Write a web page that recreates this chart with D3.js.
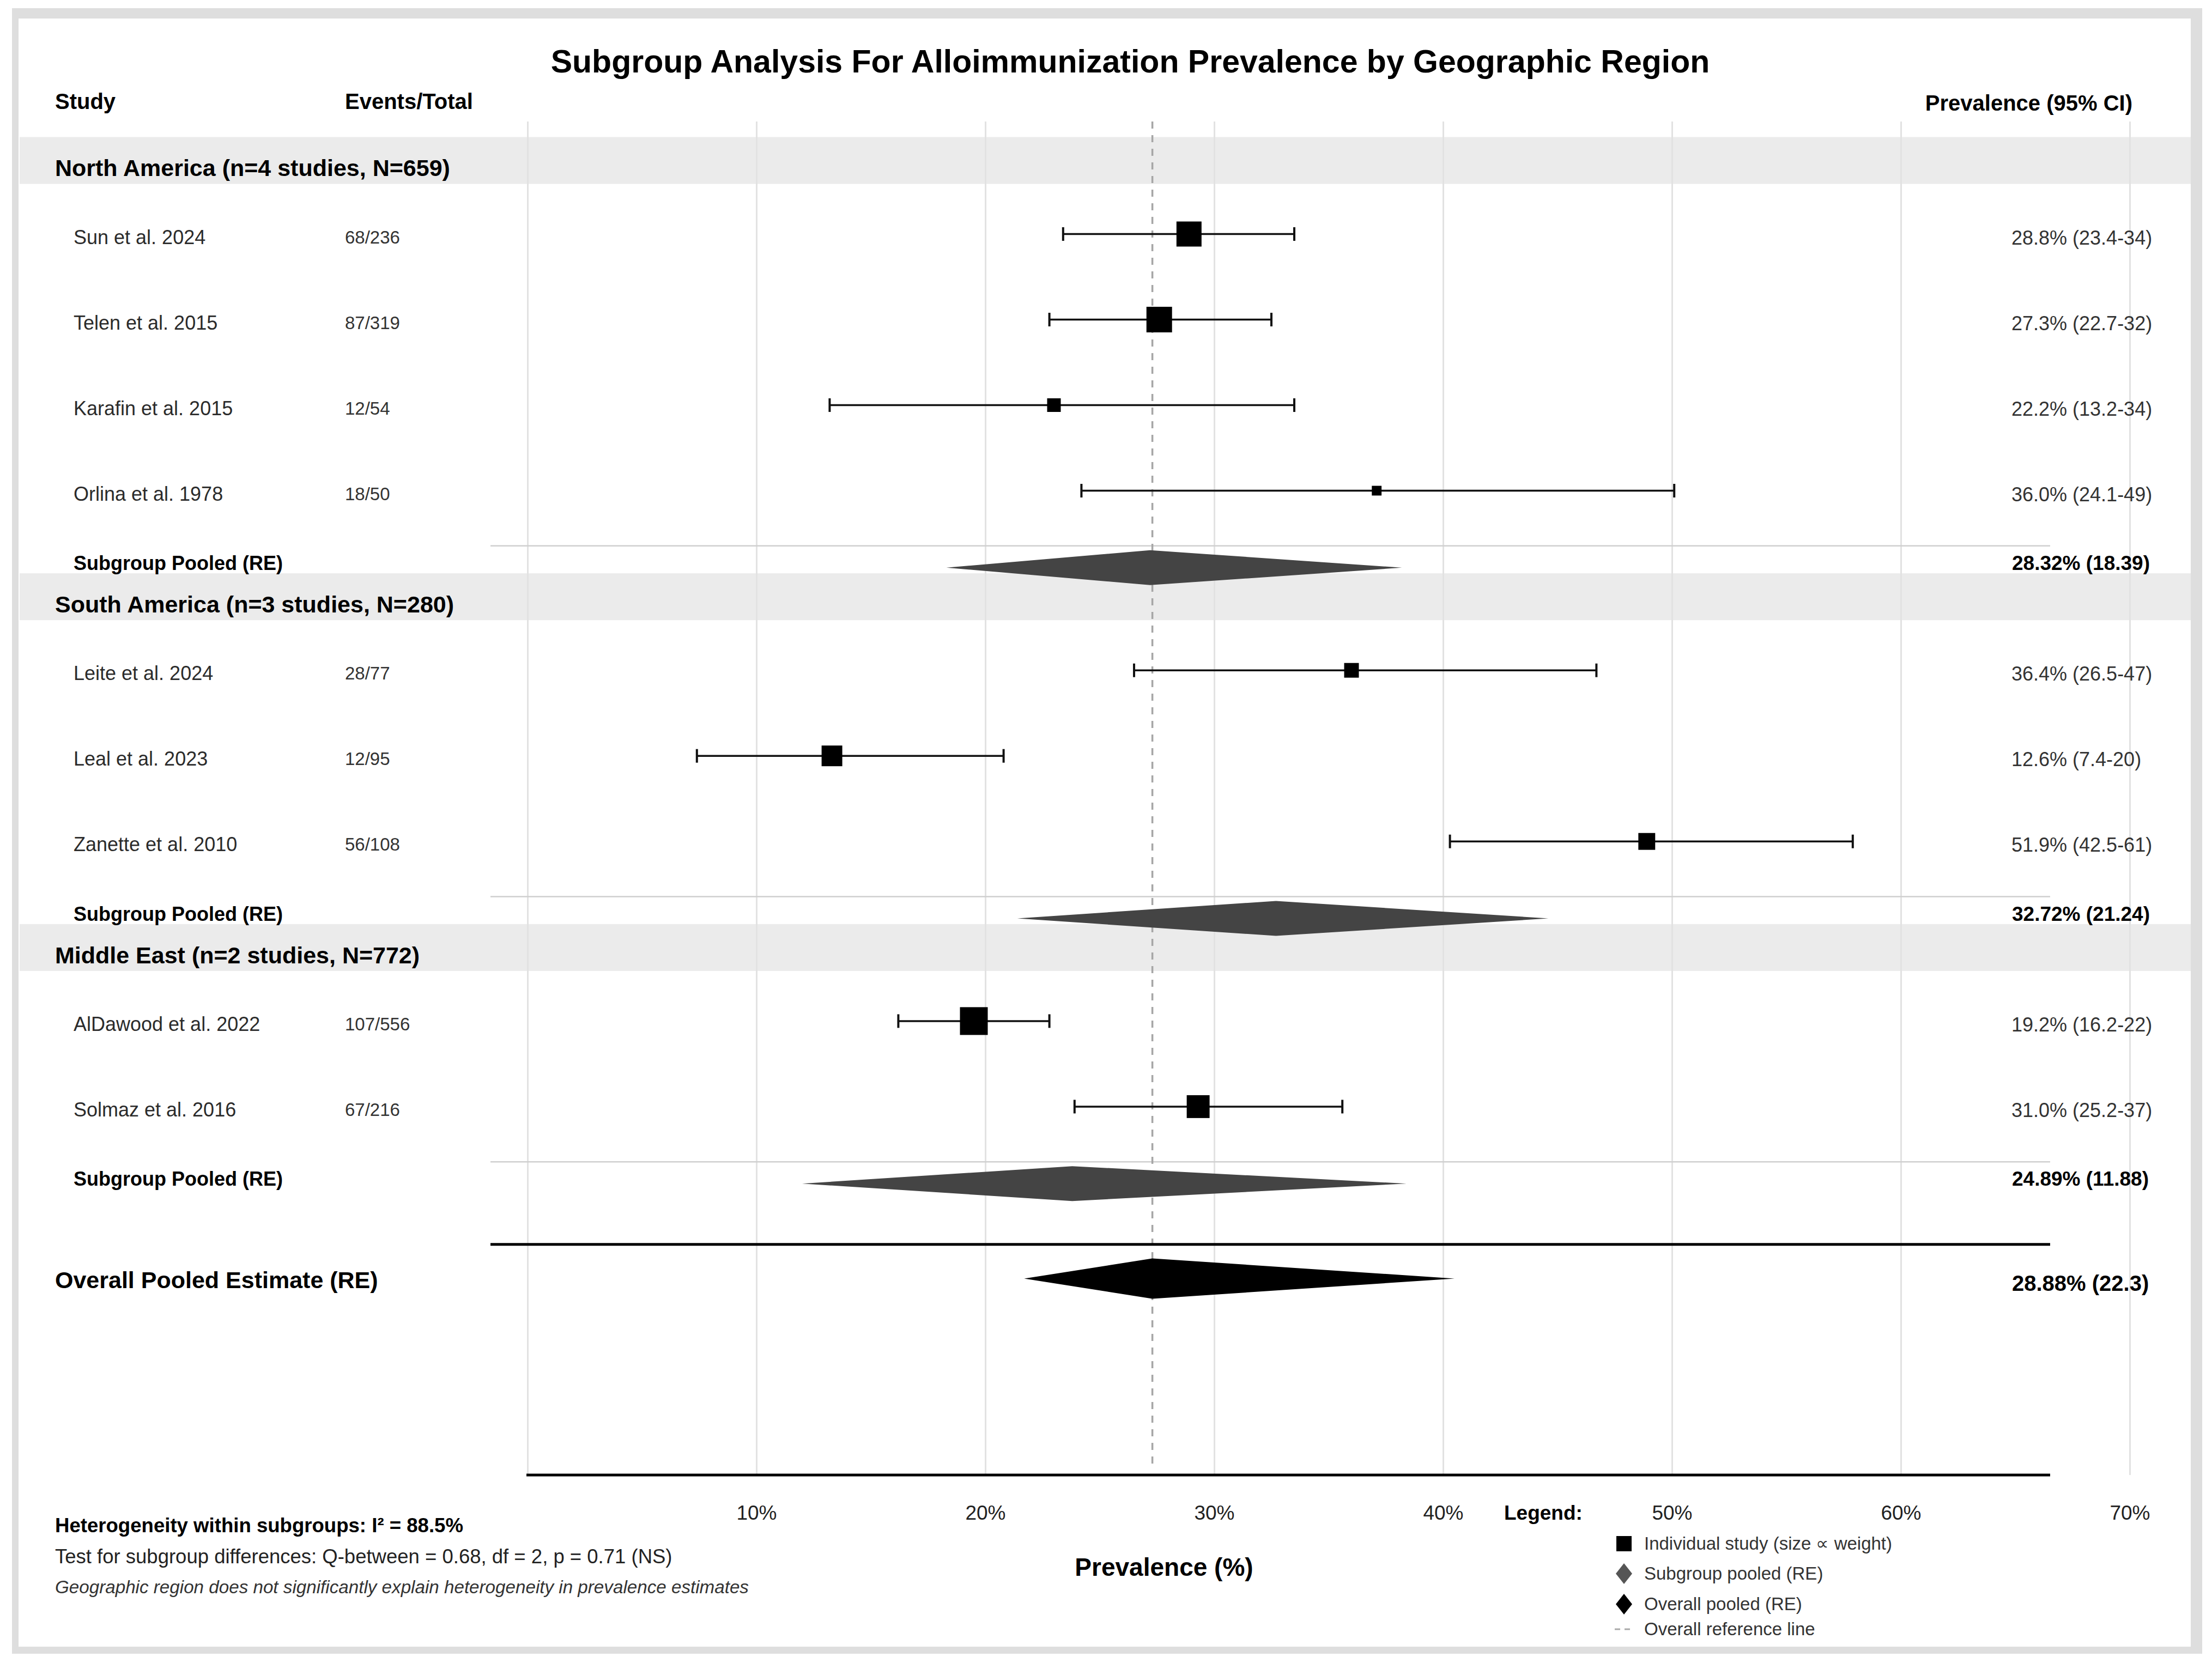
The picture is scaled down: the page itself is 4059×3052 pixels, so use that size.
<!DOCTYPE html>
<meta charset="utf-8">
<script src="https://d3js.org/d3.v7.min.js"></script>
<style>
  body { margin: 0; background: #fff; }
  text { font-family: "Liberation Sans", Arial, Helvetica, sans-serif; }
</style>
<div id="forest"></div>
<script>

// ---- data ----
var groups = ["North America (n=4 studies, N=659)",
              "South America (n=3 studies, N=280)",
              "Middle East (n=2 studies, N=772)"];
var groupSizes = [4, 3, 2];

var studies = ["Sun et al. 2024", "Telen et al. 2015", "Karafin et al. 2015", "Orlina et al. 1978",
               "Leite et al. 2024", "Leal et al. 2023", "Zanette et al. 2010",
               "AlDawood et al. 2022", "Solmaz et al. 2016"];
var events = ["68/236", "87/319", "12/54", "18/50", "28/77", "12/95", "56/108", "107/556", "67/216"];
var estimate = [28.9, 27.6, 23.0, 37.1, 36.0, 13.3, 48.9, 19.5, 29.3];
var lower    = [23.4, 22.8, 13.2, 24.2, 26.5,  7.4, 40.3, 16.2, 23.9];
var upper    = [33.5, 32.5, 33.5, 50.1, 46.7, 20.8, 57.9, 22.8, 35.6];
var weight   = [16.6, 17.3,  4.9,  2.5,  5.7, 11.3,  7.5, 20.4, 13.8];
var ciLabels = ["28.8% (23.4-34)", "27.3% (22.7-32)", "22.2% (13.2-34)", "36.0% (24.1-49)",
                "36.4% (26.5-47)", "12.6% (7.4-20)", "51.9% (42.5-61)",
                "19.2% (16.2-22)", "31.0% (25.2-37)"];

var pooledEst   = [27.2, 32.7, 23.8];
var pooledLow   = [18.3, 21.4, 12.0];
var pooledHigh  = [38.2, 44.6, 38.4];
var pooledLabels = ["28.32% (18.39)", "32.72% (21.24)", "24.89% (11.88)"];

var overallEst = 27.3, overallLow = 21.7, overallHigh = 40.5;
var overallLabel = "28.88% (22.3)";
var refValue = 27.3;

var gridTicks = [0, 10, 20, 30, 40, 50, 60, 70];
var labelTicks = [10, 20, 30, 40, 50, 60, 70];

var footLines = ["Heterogeneity within subgroups: I\u00b2 = 88.5%",
                 "Test for subgroup differences: Q-between = 0.68, df = 2, p = 0.71 (NS)",
                 "Geographic region does not significantly explain heterogeneity in prevalence estimates"];
var legendItems = ["Individual study (size \u221d weight)", "Subgroup pooled (RE)",
                   "Overall pooled (RE)", "Overall reference line"];

// ---- canvas ----
var W = 4059, H = 3052;
var svg = d3.select("#forest").append("svg")
    .attr("width", W).attr("height", H);

// frame with soft grey edge
svg.append("rect").attr("x", 22).attr("y", 15).attr("width", 4019).attr("height", 3020).attr("fill", "#dedede");
svg.append("rect").attr("x", 34).attr("y", 34).attr("width", 3986).attr("height", 2988).attr("fill", "#fff");

// scales
var x = d3.scaleLinear().domain([0, 70]).range([968, 3908]);
// y in "row units": one study row = 1 unit
var y = d3.scaleLinear().domain([0, 1]).range([429.5, 586.5]);
var size = d3.scaleSqrt().domain([0, d3.max(weight)]).range([0, 51]);

var plotTop = 223, axisY = 2707, lineL = 900, lineR = 3762;

// layout of rows in units
var rows = [], headers = [], pooledRows = [], seps = [];
var u = -0.86;
groups.forEach(function(g, gi) {
  headers.push(u);
  u += 0.86;
  for (var i = 0; i < groupSizes[gi]; i++) {
    rows.push(u);
    if (i < groupSizes[gi] - 1) u += 1;
  }
  seps.push(u + 0.645);
  u += 0.9;
  pooledRows.push(u);
  u += 0.34;
});
var lastPooled = pooledRows[pooledRows.length - 1];
var thickU = lastPooled + 0.71, overallU = lastPooled + 1.11;

function txt(sel, s, xx, yy, opts) {
  opts = opts || {};
  return sel.append("text")
    .attr("x", xx).attr("y", yy)
    .attr("font-size", opts.size || 36)
    .attr("font-weight", opts.bold ? "bold" : "normal")
    .attr("font-style", opts.italic ? "italic" : "normal")
    .attr("text-anchor", opts.anchor || "start")
    .attr("fill", opts.fill || "#000")
    .text(s);
}

// header bands
svg.selectAll(".band").data(headers).enter().append("rect")
  .attr("x", 36).attr("width", 3984)
  .attr("y", function(d) { return y(d) - 43; })
  .attr("height", 86)
  .attr("fill", "#ebebeb");

// vertical grid
svg.append("g")
  .attr("transform", "translate(0," + axisY + ")")
  .call(d3.axisBottom(x).tickValues(gridTicks).tickSize(-(axisY - plotTop)).tickFormat(""))
  .call(function(g) {
    g.select(".domain").remove();
    g.selectAll("line").attr("stroke", "#e2e2e2").attr("stroke-width", 3);
  });

// separators
svg.selectAll(".sep").data(seps).enter().append("line")
  .attr("x1", lineL).attr("x2", lineR)
  .attr("y1", function(d) { return y(d); }).attr("y2", function(d) { return y(d); })
  .attr("stroke", "#cfcfcf").attr("stroke-width", 2.5);

// reference line
svg.append("line")
  .attr("x1", x(refValue)).attr("x2", x(refValue))
  .attr("y1", plotTop).attr("y2", axisY - 14)
  .attr("stroke", "#a6a6a6").attr("stroke-width", 3.5)
  .attr("stroke-dasharray", "13,12");

// titles
txt(svg, "Subgroup Analysis For Alloimmunization Prevalence by Geographic Region", 2074, 133, {size: 59, bold: true, anchor: "middle"});
txt(svg, "Study", 101, 200, {size: 40, bold: true});
txt(svg, "Events/Total", 633, 200, {size: 40, bold: true});
txt(svg, "Prevalence (95% CI)", 3913, 203, {size: 40, bold: true, anchor: "end"});

// group headers
groups.forEach(function(g, i) {
  txt(svg, g, 101, y(headers[i]) + 29, {size: 43, bold: true});
});

// study rows
var study = svg.selectAll(".study").data(studies).enter().append("g");
study.each(function(d, i) {
  var g = d3.select(this), yy = y(rows[i]);
  txt(g, d, 135, yy + 18, {size: 36, fill: "#2b2b2b"});
  txt(g, events[i], 633, yy + 17, {size: 33, fill: "#333"});
  txt(g, ciLabels[i], 3691, yy + 19, {size: 36, fill: "#333"});
  g.append("line")
    .attr("x1", x(lower[i])).attr("x2", x(upper[i]))
    .attr("y1", yy).attr("y2", yy)
    .attr("stroke", "#111").attr("stroke-width", 3.5);
  [lower[i], upper[i]].forEach(function(v) {
    g.append("line")
      .attr("x1", x(v)).attr("x2", x(v))
      .attr("y1", yy - 12.5).attr("y2", yy + 12.5)
      .attr("stroke", "#111").attr("stroke-width", 4);
  });
  var s = size(weight[i]);
  g.append("rect")
    .attr("x", x(estimate[i]) - s / 2).attr("y", yy - s / 2)
    .attr("width", s).attr("height", s)
    .attr("fill", "#000");
});

function diamond(est, lo, hi, yy, h) {
  return "M" + x(lo) + "," + yy + "L" + x(est) + "," + (yy - h) +
         "L" + x(hi) + "," + yy + "L" + x(est) + "," + (yy + h) + "Z";
}

// subgroup pooled
pooledRows.forEach(function(p, i) {
  var yy = y(p);
  svg.append("path").attr("d", diamond(pooledEst[i], pooledLow[i], pooledHigh[i], yy, 32))
    .attr("fill", "#444");
  txt(svg, "Subgroup Pooled (RE)", 135, yy + 4, {size: 36, bold: true});
  txt(svg, pooledLabels[i], 3692, yy + 4, {size: 37, bold: true});
});

// overall
svg.append("line")
  .attr("x1", lineL).attr("x2", lineR)
  .attr("y1", y(thickU)).attr("y2", y(thickU))
  .attr("stroke", "#000").attr("stroke-width", 5);
svg.append("path").attr("d", diamond(overallEst, overallLow, overallHigh, y(overallU), 37))
  .attr("fill", "#000");
txt(svg, "Overall Pooled Estimate (RE)", 101, y(overallU) + 18, {size: 43, bold: true});
txt(svg, overallLabel, 3692, y(overallU) + 23, {size: 40, bold: true});

// x axis
svg.append("line")
  .attr("x1", 966).attr("x2", lineR)
  .attr("y1", axisY).attr("y2", axisY)
  .attr("stroke", "#000").attr("stroke-width", 5);
svg.append("g")
  .attr("transform", "translate(0," + axisY + ")")
  .call(d3.axisBottom(x).tickValues(labelTicks).tickSize(0).tickPadding(0)
          .tickFormat(function(d) { return d + "%"; }))
  .call(function(g) {
    g.select(".domain").remove();
    g.selectAll("text")
      .attr("y", 82).attr("dy", null)
      .attr("font-size", 37)
      .attr("font-family", "'Liberation Sans', Arial, sans-serif")
      .attr("fill", "#222");
  });
txt(svg, "Prevalence (%)", 2136, 2892, {size: 46, bold: true, anchor: "middle"});

// footnotes
txt(svg, footLines[0], 101, 2812, {size: 36.6, bold: true});
txt(svg, footLines[1], 101, 2869, {size: 36.5, fill: "#222"});
txt(svg, footLines[2], 101, 2924, {size: 33.2, italic: true, fill: "#333"});

// legend
txt(svg, "Legend:", 2760, 2789, {size: 37, bold: true});
var legY = [2833, 2888, 2944, 2990];
var lg = svg.append("g");
lg.append("rect").attr("x", 2966).attr("y", legY[0] - 14).attr("width", 28).attr("height", 28).attr("fill", "#000");
lg.append("path").attr("d", "M2965," + legY[1] + "l15,-19l15,19l-15,19z").attr("fill", "#555");
lg.append("path").attr("d", "M2965," + legY[2] + "l15,-19l15,19l-15,19z").attr("fill", "#000");
lg.append("line").attr("x1", 2963).attr("x2", 2999).attr("y1", legY[3]).attr("y2", legY[3])
  .attr("stroke", "#aaa").attr("stroke-width", 3).attr("stroke-dasharray", "10,8");
legendItems.forEach(function(t, i) {
  txt(lg, t, 3017, legY[i] + 11, {size: 33, fill: "#333"});
});

</script>
